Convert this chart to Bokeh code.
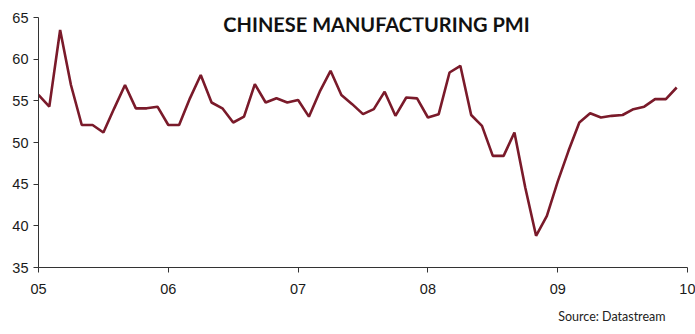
from bokeh.plotting import figure
from bokeh.models import FixedTicker, Range1d, Label, ColumnDataSource, Title
from bokeh.embed import file_html
from bokeh.resources import INLINE

# Monthly Chinese manufacturing PMI, Jan 2005 - Dec 2009
start_year = 2005
pmi = [55.7, 54.3, 63.5, 56.9, 52.1, 52.1, 51.2, 54.1, 56.9, 54.1, 54.1, 54.3,
       52.1, 52.1, 55.3, 58.1, 54.8, 54.1, 52.4, 53.1, 57.0, 54.8, 55.3, 54.8,
       55.1, 53.1, 56.1, 58.6, 55.7, 54.6, 53.4, 54.0, 56.1, 53.2, 55.4, 55.3,
       53.0, 53.4, 58.4, 59.2, 53.3, 52.0, 48.4, 48.4, 51.2, 44.6, 38.8, 41.2,
       45.3, 49.0, 52.4, 53.5, 53.0, 53.2, 53.3, 54.0, 54.3, 55.2, 55.2, 56.6]
x_ticks = [2005, 2006, 2007, 2008, 2009, 2010]
x_tick_labels = ["05", "06", "07", "08", "09", "10"]
y_ticks = [35, 40, 45, 50, 55, 60, 65]
title_text = "CHINESE MANUFACTURING PMI"
source_text = "Source: Datastream"

months = [start_year + i / 12 for i in range(len(pmi))]
src = ColumnDataSource(data=dict(x=months, y=pmi))

p = figure(width=695, height=334, output_backend="svg", toolbar_location=None,
           x_range=Range1d(2005, 2010), y_range=Range1d(35, 65),
           min_border_left=38, min_border_right=8, min_border_top=17,
           min_border_bottom=67)
p.outline_line_color = None
p.xgrid.visible = False
p.ygrid.visible = False
p.background_fill_color = "white"
p.border_fill_color = "white"

p.line("x", "y", source=src, line_color="#7A1A2A", line_width=2.6)

ax_col = "#333333"
lab_col = "#1a1a1a"

p.xaxis.ticker = FixedTicker(ticks=x_ticks)
p.xaxis.major_label_overrides = {t: l for t, l in zip(x_ticks, x_tick_labels)}
p.xaxis.minor_tick_line_color = None
p.xaxis.major_tick_in = 0
p.xaxis.major_tick_out = 5
p.xaxis.major_label_standoff = 11
p.xaxis.axis_line_color = ax_col
p.xaxis.major_tick_line_color = ax_col
p.xaxis.major_label_text_font = "Liberation Sans"
p.xaxis.major_label_text_font_size = "14.5px"
p.xaxis.major_label_text_color = lab_col

p.yaxis.ticker = FixedTicker(ticks=y_ticks)
p.yaxis.minor_tick_line_color = None
p.yaxis.major_tick_in = 0
p.yaxis.major_tick_out = 5
p.yaxis.major_label_standoff = 5
p.yaxis.axis_line_color = ax_col
p.yaxis.major_tick_line_color = ax_col
p.yaxis.major_label_text_font = "Liberation Sans"
p.yaxis.major_label_text_font_size = "14.5px"
p.yaxis.major_label_text_color = lab_col

p.add_layout(Label(x=2007.604, y=64.28, text=title_text, text_align="center",
                   text_baseline="alphabetic", text_font="Lato",
                   text_font_style="bold", text_font_size="20px",
                   text_color="#111111"))
p.add_layout(Title(text=source_text, align="right", offset=22, standoff=20,
                   text_font="Lato", text_font_style="normal",
                   text_font_size="12.5px", text_color="#222222"), "below")

open("out.html", "w").write(file_html(p, INLINE))
